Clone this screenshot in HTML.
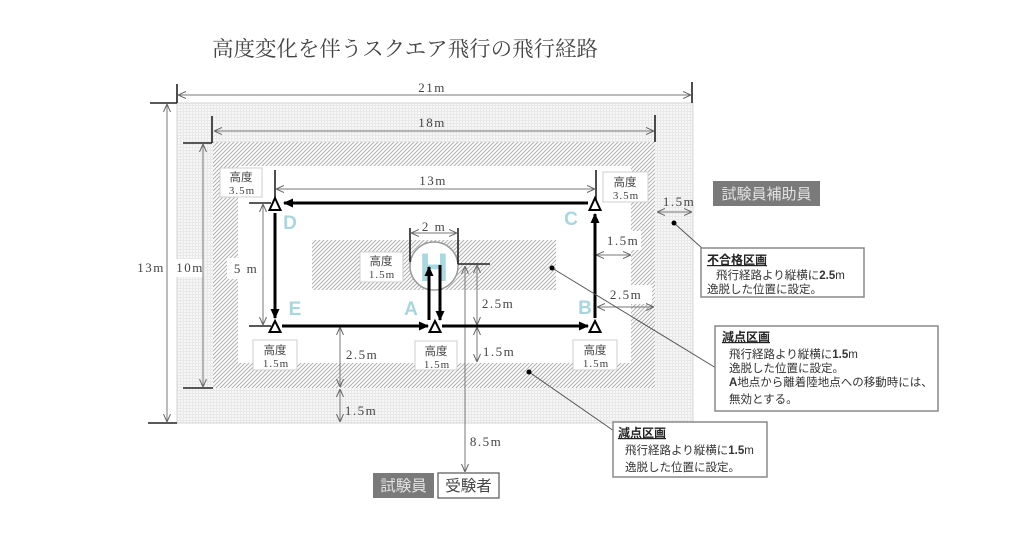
<!DOCTYPE html>
<html><head><meta charset="utf-8">
<style>
html,body{margin:0;padding:0;background:#fff;}
svg{display:block;}
.dim{font-family:"Liberation Serif","Noto Serif CJK SC",serif;font-size:13px;fill:#444;letter-spacing:1.5px;text-anchor:middle;}
.kd{font-family:"Liberation Sans","Noto Sans CJK JP",sans-serif;font-size:11.5px;fill:#444;text-anchor:middle;}
.kn{font-family:"Liberation Serif","Noto Serif CJK SC",serif;font-size:11px;fill:#444;letter-spacing:1px;text-anchor:middle;}
.pt{font-family:"Liberation Sans",sans-serif;font-size:19px;font-weight:bold;fill:#a8d6de;text-anchor:middle;}
.ct{font-family:"Liberation Sans","Noto Sans CJK JP",sans-serif;font-size:11.5px;fill:#333;}
.cth{font-family:"Liberation Sans","Noto Sans CJK JP",sans-serif;font-size:12px;font-weight:bold;fill:#222;text-decoration:underline;}
</style></head>
<body>
<svg width="1024" height="536" viewBox="0 0 1024 536" xmlns="http://www.w3.org/2000/svg">
<defs>
<pattern id="hatch" width="4" height="4" patternUnits="userSpaceOnUse">
<rect width="4" height="4" fill="#fff"/>
<path d="M-1,1 l2,-2 M0,4 l4,-4 M3,5 l2,-2" stroke="#b0b0b0" stroke-width="1"/>
</pattern>
<pattern id="grid" width="3" height="3" patternUnits="userSpaceOnUse">
<rect width="3" height="3" fill="#f7f7f7"/>
<path d="M0,0.5H3 M0.5,0V3" stroke="#e8e8e8" stroke-width="1"/>
</pattern>
<marker id="oa" viewBox="0 0 8 8" refX="8" refY="4" markerWidth="8" markerHeight="8" markerUnits="userSpaceOnUse" orient="auto-start-reverse">
<path d="M0,0.5 L8,4 L0,7.5" fill="none" stroke="#666" stroke-width="1"/>
</marker>
<marker id="fa" viewBox="0 0 10 10" refX="9" refY="5" markerWidth="10" markerHeight="10" markerUnits="userSpaceOnUse" orient="auto">
<path d="M0,0.5 L10,5 L0,9.5 z" fill="#000"/>
</marker>
</defs>

<!-- Title -->
<text x="405" y="56" font-family="'Liberation Serif','Noto Serif CJK SC',serif" font-size="21" fill="#444" text-anchor="middle" textLength="386" lengthAdjust="spacingAndGlyphs">高度変化を伴うスクエア飛行の飛行経路</text>

<!-- Areas -->
<rect x="177" y="103" width="516" height="320" fill="url(#grid)" stroke="#d4d4d4" stroke-width="1"/>
<rect x="213" y="142" width="442" height="246" fill="url(#hatch)"/>
<rect x="238" y="166" width="393" height="197" fill="#fff"/>
<rect x="312" y="240" width="244" height="50" fill="url(#hatch)"/>
<circle cx="434" cy="266" r="24" fill="#fff" stroke="#999" stroke-width="1.5"/>
<text x="434" y="281" font-family="'Liberation Sans',sans-serif" font-size="40" font-weight="bold" fill="#a8d8e0" text-anchor="middle">H</text>

<!-- label white backgrounds -->
<rect x="176" y="259" width="28" height="18" fill="#fff"/>
<rect x="227" y="258" width="34" height="21" fill="#fff"/>
<rect x="604" y="231" width="37" height="19" fill="#fff"/>
<rect x="604" y="285" width="48" height="19" fill="#fff"/>

<!-- altitude boxes -->
<g fill="#fff" stroke="#cfcfcf" stroke-width="1">
<rect x="220" y="168" width="42" height="29"/>
<rect x="603" y="172" width="45" height="30"/>
<rect x="253" y="340" width="44" height="30"/>
<rect x="415" y="341" width="42" height="29"/>
<rect x="573" y="340" width="44" height="30"/>
<rect x="360" y="252" width="43" height="30"/>
</g>
<text class="kd" x="241" y="181">高度</text><text class="kn" x="242" y="194">3.5m</text>
<text class="kd" x="625" y="186">高度</text><text class="kn" x="626" y="199">3.5m</text>
<text class="kd" x="275" y="354">高度</text><text class="kn" x="276" y="367">1.5m</text>
<text class="kd" x="436" y="355">高度</text><text class="kn" x="437" y="368">1.5m</text>
<text class="kd" x="595" y="354">高度</text><text class="kn" x="596" y="367">1.5m</text>
<text class="kd" x="381" y="265">高度</text><text class="kn" x="382" y="278">1.5m</text>

<!-- black ticks -->
<g stroke="#222" stroke-width="1.6" fill="none">
<path d="M177,84V103 M150,103H177 M692,82V103"/>
<path d="M212,116V143 M183,143H212 M655,115V142"/>
<path d="M148,423H177 M183,388H213"/>
<path d="M275,170V203 M596,170V203"/>
<path d="M249,203H271 M249,326H271"/>
<path d="M410,228V262 M458,228V264 M458,264H490"/>
</g>

<!-- dimension lines -->
<g stroke="#777" stroke-width="1" fill="none" marker-start="url(#oa)" marker-end="url(#oa)">
<path d="M178,95H691"/>
<path d="M167,104V422"/>
<path d="M214,131H654"/>
<path d="M203,144V387"/>
<path d="M276,189H595"/>
<path d="M263,204V325"/>
<path d="M411,233H457"/>
<path d="M465,266V472"/>
<path d="M477,265V325"/>
<path d="M477,327V362"/>
<path d="M340,327V387"/>
<path d="M340,389V422"/>
<path d="M596,255H631"/>
<path d="M597,307H654"/>
<path d="M657,212H692"/>
</g>

<!-- dimension labels -->
<text class="dim" x="432" y="92">21m</text>
<text class="dim" x="432" y="127">18m</text>
<text class="dim" x="433" y="185">13m</text>
<text class="dim" x="151" y="272">13m</text>
<text class="dim" x="190" y="272">10m</text>
<text class="dim" x="246" y="273" font-size="14">5 m</text>
<text class="dim" x="434" y="231">2 m</text>
<text class="dim" x="498" y="308">2.5m</text>
<text class="dim" x="499" y="356">1.5m</text>
<text class="dim" x="362" y="359">2.5m</text>
<text class="dim" x="361" y="415">1.5m</text>
<text class="dim" x="486" y="446">8.5m</text>
<text class="dim" x="623" y="245">1.5m</text>
<text class="dim" x="626" y="299">2.5m</text>
<text class="dim" x="679" y="206">1.5m</text>

<!-- point letters -->
<text class="pt" x="290" y="229">D</text>
<text class="pt" x="571" y="225">C</text>
<text class="pt" x="295" y="315">E</text>
<text class="pt" x="411" y="315">A</text>
<text class="pt" x="585" y="314">B</text>

<!-- thick flight path -->
<g stroke="#000" stroke-width="3" fill="none" marker-end="url(#fa)">
<path d="M275,213V318"/>
<path d="M282,326H428"/>
<path d="M442,326H588"/>
<path d="M595,318V214"/>
<path d="M588,203H284"/>
<path d="M429,320V267"/>
<path d="M440,265V320"/>
</g>

<!-- triangles -->
<g fill="#fff" stroke="#000" stroke-width="2" stroke-linejoin="miter">
<polygon points="275,198 269.5,210 280.5,210"/>
<polygon points="595,198 589.5,210 600.5,210"/>
<polygon points="275,321 269.5,332 280.5,332"/>
<polygon points="435,321 429.5,332 440.5,332"/>
<polygon points="595,321 589.5,332 600.5,332"/>
</g>

<!-- callout lines -->
<g stroke="#555" stroke-width="1" fill="none">
<path d="M674,223L703,249"/>
<path d="M552,268L716,368"/>
<path d="M529,372L614,431"/>
</g>
<circle cx="674" cy="223" r="2.5" fill="#000"/>
<circle cx="552" cy="268" r="2.5" fill="#000"/>
<circle cx="529" cy="372" r="2.5" fill="#000"/>

<!-- callout boxes -->
<rect x="701" y="248" width="163" height="49" fill="#fff" stroke="#888" stroke-width="1.5"/>
<text class="cth" x="707" y="264">不合格区画</text>
<text class="ct" x="716" y="279">飛行経路より縦横に<tspan font-weight="bold">2.5</tspan>m</text>
<text class="ct" x="707" y="293">逸脱した位置に設定。</text>

<rect x="715" y="326" width="223" height="85" fill="#fff" stroke="#888" stroke-width="1.5"/>
<text class="cth" x="722" y="341">減点区画</text>
<text class="ct" x="729" y="358">飛行経路より縦横に<tspan font-weight="bold">1.5</tspan>m</text>
<text class="ct" x="729" y="372">逸脱した位置に設定。</text>
<text class="ct" x="729" y="386"><tspan font-weight="bold">A</tspan>地点から離着陸地点への移動時には、</text>
<text class="ct" x="729" y="403">無効とする。</text>

<rect x="613" y="422" width="154" height="55" fill="#fff" stroke="#888" stroke-width="1.5"/>
<text class="cth" x="618" y="437">減点区画</text>
<text class="ct" x="625" y="454">飛行経路より縦横に<tspan font-weight="bold">1.5</tspan>m</text>
<text class="ct" x="625" y="471">逸脱した位置に設定。</text>

<!-- role boxes -->
<rect x="713" y="181" width="107" height="25" fill="#7a7a7a"/>
<text x="766.5" y="199" font-family="'Liberation Sans','Noto Sans CJK JP',sans-serif" font-size="15" fill="#e2e2e2" text-anchor="middle">試験員補助員</text>

<rect x="373" y="473" width="61" height="25" fill="#7a7a7a"/>
<text x="403.5" y="491" font-family="'Liberation Sans','Noto Sans CJK JP',sans-serif" font-size="15.5" fill="#e2e2e2" text-anchor="middle">試験員</text>
<rect x="438" y="473" width="61" height="25" fill="#fff" stroke="#555" stroke-width="1.2"/>
<text x="468.5" y="491" font-family="'Liberation Sans','Noto Sans CJK JP',sans-serif" font-size="15.5" fill="#444" text-anchor="middle">受験者</text>
</svg>
</body></html>
